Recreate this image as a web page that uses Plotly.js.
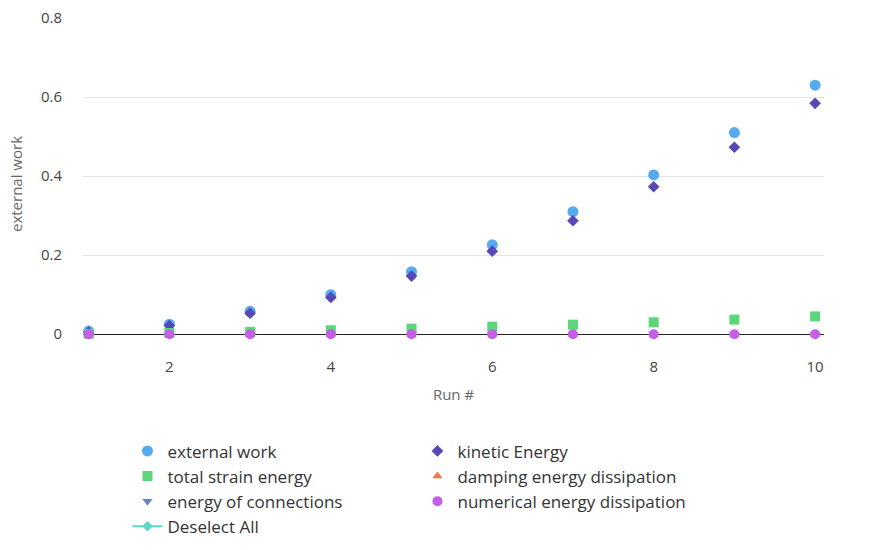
<!DOCTYPE html>
<html>
<head>
<script src="https://cdn.plot.ly/plotly-3.0.1.min.js"></script>
<style>body{margin:0}#chart{width:874px;height:550px}</style>
</head>
<body>
<div id="chart"></div>
<script>
const runs = [1, 2, 3, 4, 5, 6, 7, 8, 9, 10];
const externalWork = [0.008, 0.025, 0.058, 0.1, 0.158, 0.226, 0.31, 0.403, 0.51, 0.63];
const kineticEnergy = [0.005, 0.022, 0.053, 0.093, 0.147, 0.21, 0.287, 0.373, 0.473, 0.584];
const strainEnergy = [0.001, 0.003, 0.006, 0.01, 0.014, 0.019, 0.024, 0.03, 0.037, 0.045];
const dampingEnergy = [0, 0, 0, 0, 0, 0, 0, 0, 0, 0];
const connectionEnergy = [0, 0, 0, 0, 0, 0, 0, 0, 0, 0];
const numericalEnergy = [0, 0, 0, 0, 0, 0, 0, 0, 0, 0];

function pts(name, y, color, symbol, size) {
    return {
        type: 'scatter', mode: 'markers', name: name, x: runs, y: y,
        marker: { color: color, symbol: symbol, size: size }
    };
}

const data = [
    pts('external work', externalWork, '#55aaf0', 'circle', 11),
    pts('kinetic Energy', kineticEnergy, '#5548b8', 'diamond', 9),
    pts('total strain energy', strainEnergy, '#5cd67a', 'square', 10),
    pts('damping energy dissipation', dampingEnergy, '#f07848', 'triangle-up', 9),
    pts('energy of connections', connectionEnergy, '#6a86b8', 'triangle-down', 9),
    pts('numerical energy dissipation', numericalEnergy, '#c65ee8', 'circle', 10),
    {
        type: 'scatter', mode: 'lines+markers', name: 'Deselect All', x: [null], y: [null],
        line: { color: '#5ed6c8', width: 2 }, marker: { color: '#5ed6c8', symbol: 'diamond', size: 8 }
    }
];

const layout = {
    width: 874, height: 550,
    margin: { l: 83, r: 50, t: 18, b: 200, autoexpand: false },
    font: { family: 'Open Sans, sans-serif', size: 15, color: '#444' },
    paper_bgcolor: '#fff', plot_bgcolor: '#fff',
    xaxis: {
        range: [0.93, 10.11], dtick: 2, showgrid: false, zeroline: false,
        title: { text: 'Run #', font: { size: 15, color: '#666' }, standoff: 14 }, ticks: '',
        ticklabelstandoff: 6, automargin: false,
        tickfont: { size: 15, color: '#444' }
    },
    yaxis: {
        range: [-0.04, 0.8], dtick: 0.2, gridcolor: '#e4e4e4', automargin: false,
        zeroline: true, zerolinecolor: '#222', zerolinewidth: 1,
        title: { text: 'external work', font: { size: 15, color: '#666' }, standoff: 14 },
        ticklabelstandoff: 20,
        tickformat: '~g', tickfont: { size: 15, color: '#444' }
    },
    legend: {
        orientation: 'h', x: 0.06, y: 0.212, yref: 'container', xanchor: 'left', yanchor: 'top',
        entrywidth: 245, entrywidthmode: 'pixels', traceorder: 'normal',
        font: { size: 17, color: '#333' }, tracegroupgap: 0
    }
};

Plotly.newPlot('chart', data, layout, { displayModeBar: false });
</script>
</body>
</html>
